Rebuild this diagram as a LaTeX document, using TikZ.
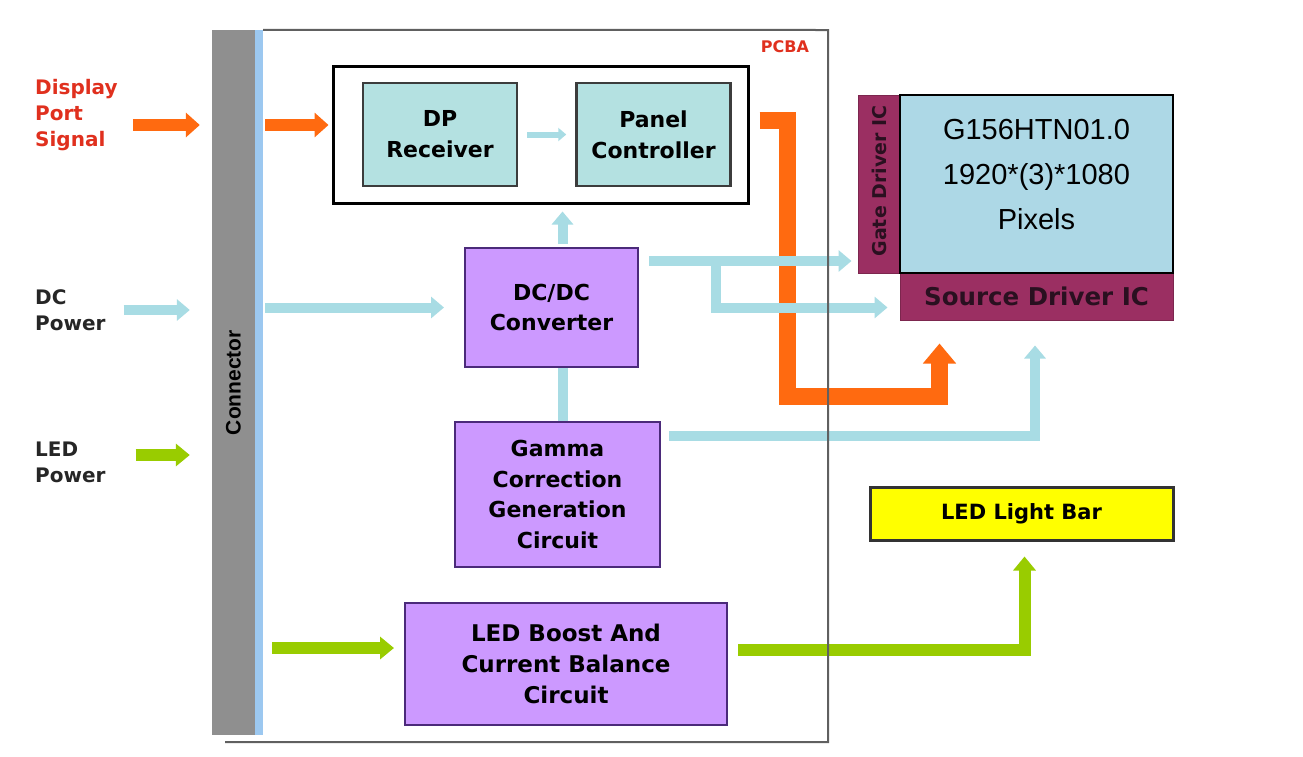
\documentclass[tikz,border=0pt]{standalone}
\usepackage{fontspec}
\setsansfont{DejaVu Sans}
\newfontfamily\arialfont{Liberation Sans}
\usetikzlibrary{positioning,arrows.meta}
\definecolor{dporange}{HTML}{FF6A10}
\definecolor{pwrblue}{HTML}{A8DCE4}
\definecolor{ledgreen}{HTML}{99CC00}
\definecolor{procfill}{HTML}{CC99FF}
\definecolor{procedge}{HTML}{4B2A7A}
\definecolor{rxfill}{HTML}{B4E1E1}
\definecolor{rxedge}{HTML}{3C3C3C}
\definecolor{drvfill}{HTML}{9B2F62}
\definecolor{drvtext}{HTML}{2A1020}
\definecolor{panelblue}{HTML}{ADD8E6}
\definecolor{ledyellow}{HTML}{FFFF00}
\definecolor{conngray}{HTML}{8F8F8F}
\definecolor{stripblue}{HTML}{9CC8F0}
\definecolor{dpred}{HTML}{E0301E}
\definecolor{framegray}{HTML}{606060}

\begin{document}
\begin{tikzpicture}[
    x=1pt, y=-1pt,
    every node/.style={font=\sffamily\bfseries, inner sep=0pt},
    lbl/.style={align=left, font=\sffamily\bfseries\fontsize{20}{26}\selectfont},
    rxbox/.style={draw=rxedge, line width=2.5pt, fill=rxfill, align=center, minimum width=154pt, minimum height=103pt, font=\sffamily\bfseries\fontsize{22}{31}\selectfont},
    procbox/.style={draw=procedge, line width=2pt, fill=procfill, align=center, font=\sffamily\bfseries\fontsize{22}{30.5}\selectfont},
    drvbox/.style={fill=drvfill, draw=drvfill!80!black, line width=1pt},
    sigarr/.style={-{Triangle[length=14pt,width=24pt]}, line width=12pt, draw=dporange},
    pwrarr/.style={-{Triangle[length=13pt,width=21pt]}, line width=10pt, draw=pwrblue},
    pwrline/.style={line width=10pt, draw=pwrblue},
    smallarr/.style={-{Triangle[length=8pt,width=13pt]}, line width=6pt, draw=pwrblue},
    ledarr/.style={-{Triangle[length=14pt,width=22pt]}, line width=12pt, draw=ledgreen}
]
\fill[white] (0,0) rectangle (1303,756);
\useasboundingbox (0,0) rectangle (1303,756);

% connector strip
\node[fill=conngray, minimum width=43pt, minimum height=705pt] (conn) at (233.5,382.5) {};
\fill[stripblue] (conn.north east) rectangle ([xshift=8pt]conn.south east);
\node[rotate=90, font=\arialfont\bfseries\fontsize{21}{21}\selectfont] (conntext) at (conn.center) {Connector};
\node[text=dpred, font=\sffamily\bfseries\fontsize{16}{16}\selectfont] (pcba) at (785,47) {PCBA};

% inputs
\node[lbl, text=dpred, anchor=west] (dpsig) at (35,115) {Display\\Port\\Signal};
\node[lbl, text=black!85, anchor=west] (dcin) at (35,310) {DC\\Power};
\node[lbl, text=black!85, anchor=west] (ledin) at (35,462) {LED\\Power};

% blocks on the board
\node[draw, line width=3pt, minimum width=415pt, minimum height=137pt] (dpunit) at (540.5,134.5) {};
\node[rxbox] (dprx) at (440,134.5) {DP\\Receiver};
\node[rxbox, right=57pt of dprx] (ctrl) {Panel\\Controller};
\node[procbox, minimum width=173pt, minimum height=119pt] (dcdc) at (551.5,307.5) {DC/DC\\Converter};
\node[procbox, minimum width=205pt, minimum height=145pt] (gamma) at (557.5,494.5) {Gamma\\Correction\\Generation\\Circuit};
\node[procbox, minimum width=322pt, minimum height=122pt, font=\sffamily\bfseries\fontsize{23}{31}\selectfont] (ledb) at (566,664) {LED Boost And\\Current Balance\\Circuit};

% panel side
\node[drvbox, minimum width=42pt, minimum height=178pt] (gate) at (879,184) {};
\node[rotate=90, text=drvtext, font=\sffamily\bfseries\fontsize{19}{19}\selectfont] (gatetext) at ([yshift=3pt]gate.center) {Gate Driver IC};
\node[drvbox, minimum width=273pt, minimum height=47pt, text=drvtext, font=\sffamily\bfseries\fontsize{24.5}{24.5}\selectfont] (source) at (1036.5,296.5) {Source Driver IC};
\node[draw, line width=2.5pt, fill=panelblue, minimum width=273pt, minimum height=178pt] (panel) at (1036.5,184) {};
\node[align=center, font=\arialfont\fontsize{29}{45}\selectfont] (paneltext) at ([yshift=9pt]panel.center) {G156HTN01.0\\1920*(3)*1080\\Pixels};
\node[draw=black!80, line width=3pt, fill=ledyellow, minimum width=303pt, minimum height=53pt, font=\sffamily\bfseries\fontsize{21}{21}\selectfont] (ledbar) at (1021.5,513.5) {LED Light Bar};

% display port signal
\coordinate (dpsrc) at ([yshift=-10pt]dpsig.east);
\coordinate (dpin) at ([yshift=9.5pt]dpunit.west);
\draw[sigarr, shorten <=15pt, shorten >=12pt] (dpsrc) -- (dpsrc -| conn.west);
\draw[sigarr, shorten <=10pt, shorten >=3pt] (conn.east |- dpin) -- (dpin);
\draw[smallarr, shorten <=9pt, shorten >=9pt] (dprx) -- (ctrl);
\coordinate (ctrlout) at ([xshift=10pt,yshift=14pt]dpunit.east);
\coordinate (obend) at (787,396);
\draw[sigarr, line width=17pt, -{Triangle[length=20pt,width=32pt]}, line join=miter, shorten >=23pt] (ctrlout) -| (obend) -| ([xshift=40pt]source.south west);

% dc power
\draw[pwrarr, shorten <=18pt, shorten >=22pt] (dcin.east) -- (dcin.east -| conn.west);
\draw[pwrarr, shorten <=10pt, shorten >=20pt] (conn.east |- dcdc.west) -- (dcdc.west);
\coordinate (dcup) at ([xshift=11pt]dcdc.north);
\draw[pwrarr, shorten <=3pt, shorten >=7pt] (dcup) -- (dcup |- dpunit.south);
\coordinate (dcdown) at ([xshift=11pt]dcdc.south);
\draw[pwrline] (dcdown) -- (dcdown |- gamma.north);
\coordinate (dcout) at ([yshift=-14pt]dcdc.north east);
\coordinate (dcsplit) at ([xshift=77pt]dcout);
\coordinate (srcin) at ([yshift=-11pt]source.west);
\draw[pwrarr, shorten <=10pt, shorten >=6pt] (dcout) -- (dcout -| gate.west);
\draw[pwrarr, shorten >=12pt] (dcsplit) |- (srcin);
\coordinate (gamout) at ([yshift=-15pt]gamma.north east);
\draw[pwrarr, shorten <=8pt, shorten >=25pt] (gamout) -| ([xshift=-1.5pt]source.south);

% led power
\coordinate (ledsrc) at ([yshift=7pt]ledin.east);
\coordinate (boostin) at ([yshift=16pt]ledb.west);
\coordinate (boostout) at ([yshift=14pt]ledb.east);
\draw[ledarr, shorten <=30pt, shorten >=22pt] (ledsrc) -- (ledsrc -| conn.west);
\draw[ledarr, shorten <=17pt, shorten >=10pt] (conn.east |- boostin) -- (boostin);
\draw[ledarr, line join=miter, shorten <=10pt, shorten >=15pt] (boostout) -| ([xshift=3pt]ledbar.south);

% board outline
\draw[framegray, line width=2pt] ([xshift=8pt]conn.north east) -- (828,30) -- (828,742) -- (225,742);
\end{tikzpicture}
\end{document}
